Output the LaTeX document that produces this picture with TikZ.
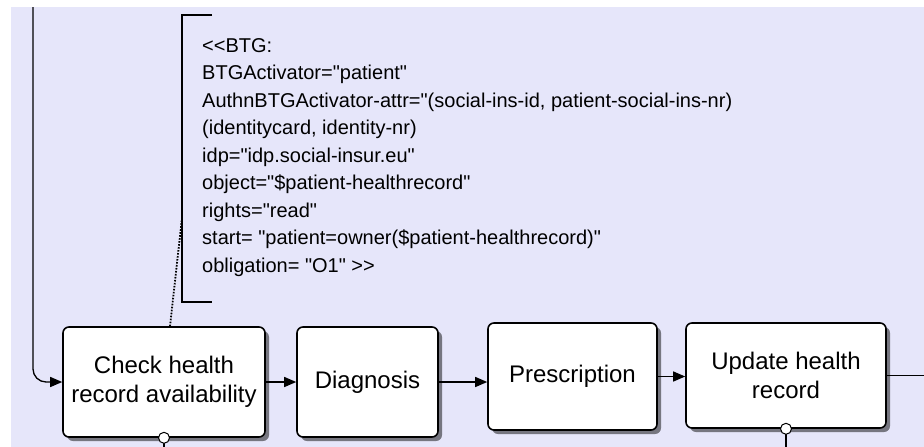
\documentclass[tikz,border=0pt]{standalone}
\usepackage{fontspec}
\setmainfont{Liberation Sans}[Ligatures=TeXOff]
\usetikzlibrary{arrows.meta,shadows}
\definecolor{lanelav}{RGB}{230,230,250}
\definecolor{shadowgray}{RGB}{118,118,128}
\begin{document}
\begin{tikzpicture}[x=1pt, y=-1pt, font=\fontsize{24}{29}\selectfont]
      \tikzset{task node/.style={draw, fill=white, line width=1.6pt, rounded corners=6pt,
          inner sep=0pt, align=center,
          drop shadow={shadow xshift=4pt, shadow yshift=-4pt, fill=shadowgray, opacity=1}},
        flow/.style={line width=1.3pt, -{Triangle[length=12pt, width=10pt]}},
        port/.style={circle, draw, fill=white, line width=1pt, inner sep=0pt, minimum size=11pt}}

      \useasboundingbox (0, 0) rectangle (924, 447);
      \fill[lanelav] (11, 7) rectangle (924, 447);

      % Tasks
      \node[task node, minimum width=202pt, minimum height=110pt] (check) at (164, 382) {Check health\\record availability};
      \node[task node, minimum width=141pt, minimum height=110pt] (diag) at (367.5, 382) {Diagnosis};
      \node[task node, minimum width=169pt, minimum height=107pt] (presc) at (572.5, 376.5) {Prescription};
      \node[task node, minimum width=200pt, minimum height=105pt] (update) at (786, 375.5) {Update health\\record};

      % Incoming flow from the top
      \coordinate (entry) at (33, 7);
      \draw[flow, rounded corners=13pt] (entry) |- (check.west);

      % Sequence flows
      \draw[flow] (check) -- (diag);
      \draw[flow] (diag.east) -- (diag.east -| presc.west);
      \draw[flow] (presc.east) -- (presc.east -| update.west);
      \coordinate (exit) at (924, 375.5);
      \draw[line width=1.3pt] (update.east) -- (exit);

      % Ports below the tasks
      \coordinate (checkout) at (164, 447);
      \coordinate (updateout) at (786, 447);
      \draw[line width=1.3pt] (check.south) -- (checkout);
      \draw[line width=1.3pt] (update.south) -- (updateout);
      \node[port] (checkport) at (check.south) {};
      \node[port] (updateport) at (update.south) {};

      % BTG annotation
      \node[anchor=north west, align=left, inner sep=0pt, font=\fontsize{20}{27.5}\selectfont] (btgnote) at (202, 38)
        {<<BTG:\\
         BTGActivator="patient"\\
         AuthnBTGActivator-attr="(social-ins-id, patient-social-ins-nr)\\
         (identitycard, identity-nr)\\
         idp="idp.social-insur.eu"\\
         object="\$patient-healthrecord"\\
         rights="read"\\
         start= "patient=owner(\$patient-healthrecord)"\\
         obligation= "O1" >>};
      \draw[line width=1.5pt] (212, 15) -- (182, 15) -- (182, 302) -- (212, 302);
      \coordinate (notehook) at (182, 218);
      \draw[line width=1.8pt, dash pattern=on 1.6pt off 1.4pt] ([xshift=6pt]check.north) -- (notehook);

    \end{tikzpicture}
\end{document}
